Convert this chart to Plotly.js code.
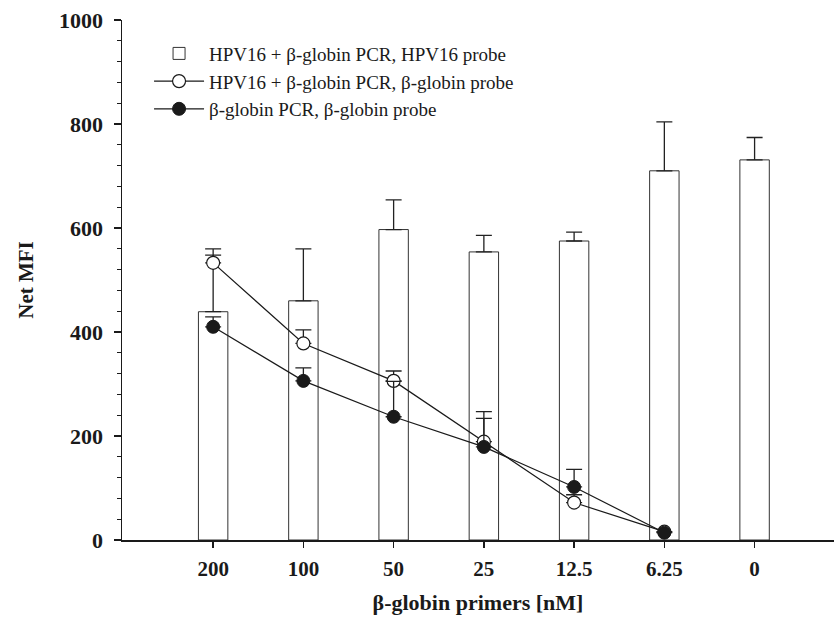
<!DOCTYPE html>
<html>
<head>
<meta charset="utf-8">
<script src="https://cdn.plot.ly/plotly-3.0.1.min.js"></script>
<style>html,body{margin:0;padding:0;background:#fff;}#chart{width:834px;height:617px;}</style>
</head>
<body>
<div id="chart"></div>
<script>
var categories = ['200', '100', '50', '25', '12.5', '6.25', '0'];
var barValues = [439, 460, 597, 554, 575, 710, 731];
var barErrors = [121, 100, 57, 32, 17, 94, 43];
var openValues = [533, 378, 306, 189, 72, 16];
var openErrors = [15, 26, 19, 58, 15, 0];
var filledValues = [410, 306, 237, 179, 102, 14];
var filledErrors = [19, 25, 68, 55, 34, 0];
var seriesNames = [
  'HPV16 + \u03b2-globin PCR, HPV16 probe',
  'HPV16 + \u03b2-globin PCR, \u03b2-globin probe',
  '\u03b2-globin PCR, \u03b2-globin probe'
];

var serif = 'Liberation Serif';

var traces = [
  {
    type: 'bar', x: categories, y: barValues, name: seriesNames[0],
    width: 0.326, legendgroup: 'a',
    marker: {color: '#ffffff', line: {color: '#333333', width: 1}},
    error_y: {type: 'data', array: barErrors, arrayminus: barValues.map(function(){return 0;}), symmetric: false, color: '#222222', thickness: 1.3, width: 8}
  },
  {
    type: 'scatter', mode: 'lines+markers', x: categories.slice(0, 6), y: openValues, name: seriesNames[1],
    legendgroup: 'b',
    line: {color: '#1a1a1a', width: 1.2},
    marker: {symbol: 'circle', size: 13, color: '#ffffff', line: {color: '#1a1a1a', width: 1.2}},
    error_y: {type: 'data', array: openErrors, arrayminus: openValues.map(function(){return 0;}), symmetric: false, color: '#222222', thickness: 1.3, width: 8}
  },
  {
    type: 'scatter', mode: 'lines+markers', x: categories.slice(0, 6), y: filledValues, name: seriesNames[2],
    legendgroup: 'c',
    line: {color: '#1a1a1a', width: 1.2},
    marker: {symbol: 'circle', size: 13, color: '#1a1a1a', line: {color: '#1a1a1a', width: 1}},
    error_y: {type: 'data', array: filledErrors, arrayminus: filledValues.map(function(){return 0;}), symmetric: false, color: '#222222', thickness: 1.3, width: 8}
  }
];

var layout = {
  width: 834, height: 617,
  margin: {l: 122, r: 0, t: 20, b: 77},
  paper_bgcolor: '#ffffff', plot_bgcolor: '#ffffff',
  showlegend: true,
  legend: {
    x: 0.038, y: 0.972, xanchor: 'left', yanchor: 'top',
    traceorder: 'grouped', tracegroupgap: 0, itemwidth: 50,
    font: {family: serif, size: 19, color: '#1a1a1a'},
    bgcolor: 'rgba(0,0,0,0)'
  },
  xaxis: {
    type: 'category', range: [-1.01, 6.88],
    showline: true, linecolor: '#1a1a1a', linewidth: 1.5,
    showgrid: false, zeroline: false,
    ticks: 'outside', ticklen: 6, tickwidth: 1.3, tickcolor: '#1a1a1a',
    ticklabelstandoff: 3,
    tickfont: {family: serif, size: 21, color: '#1a1a1a', weight: 'bold'},
    title: {text: '\u03b2-globin primers [nM]', standoff: 15, font: {family: serif, size: 22, color: '#1a1a1a', weight: 'bold'}}
  },
  yaxis: {
    range: [0, 1000], dtick: 200, tick0: 0,
    showline: true, linecolor: '#1a1a1a', linewidth: 1.5,
    showgrid: false, zeroline: false,
    ticks: 'outside', ticklen: 7, tickwidth: 1.3, tickcolor: '#1a1a1a',
    ticklabelstandoff: 6,
    minor: {dtick: 40, ticks: 'outside', ticklen: 4, tickwidth: 1, tickcolor: '#1a1a1a', showgrid: false},
    tickfont: {family: serif, size: 22, color: '#1a1a1a', weight: 'bold'},
    title: {text: 'Net MFI', standoff: 19, font: {family: serif, size: 21, color: '#1a1a1a', weight: 'bold'}}
  }
};

Plotly.newPlot('chart', traces, layout, {displayModeBar: false, staticPlot: true});
</script>
</body>
</html>
